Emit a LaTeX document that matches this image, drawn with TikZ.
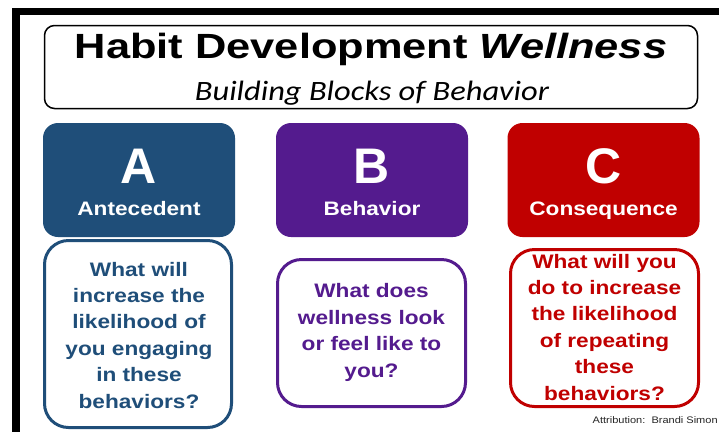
\documentclass[tikz,border=0pt]{standalone}
\usepackage{fontspec}
\setmainfont{Liberation Sans}
\newfontfamily\titlefont[FakeStretch=1.24]{Liberation Sans}
\newfontfamily\labfont[FakeStretch=1.16]{Liberation Sans}
\newfontfamily\subfont[FakeStretch=1.16]{Carlito}
\definecolor{cA}{HTML}{1F4E79}
\definecolor{cB}{HTML}{541B8E}
\definecolor{cC}{HTML}{C00000}
\tikzset{
  topbox/.style={rounded corners=15pt, minimum width=192pt, minimum height=114pt, inner sep=0pt},
  qbox/.style={draw=#1, line width=3pt, rounded corners=24pt, inner sep=0pt},
  bigletter/.style={anchor=base, text=white, inner sep=0pt, font=\fontsize{50}{55}\selectfont\bfseries},
  lab/.style={anchor=base, text=white, inner sep=0pt, font=\labfont\fontsize{19.5}{22}\selectfont\bfseries},
  qtext/.style={anchor=base, text=#1, inner sep=0pt, align=center, font=\labfont\fontsize{19.5}{26.4}\selectfont\bfseries}
}
\begin{document}
\begin{tikzpicture}[x=1pt,y=-1pt]
\useasboundingbox (0,0) rectangle (719,432);
\fill[white] (0,0) rectangle (719,432);
\fill[black] (12,8) rectangle (20,432);
\fill[black] (12,8) rectangle (719,15);
% title box
\node[draw=black, line width=1.5pt, rounded corners=10pt, minimum width=653pt, minimum height=83pt, inner sep=0pt] (tbox) at (371,67) {};
\node[anchor=base, inner sep=0pt] (title) at (371,58) {\titlefont\fontsize{35}{40}\selectfont\bfseries Habit Development \itshape Wellness};
\node[anchor=base, inner sep=0pt] (sub) at (372,100) {\subfont\fontsize{28}{32}\selectfont\itshape Building Blocks of Behavior};
% top boxes
\node[topbox, fill=cA] (boxA) at (139,180) {};
\node[topbox, fill=cB] (boxB) at (372,180) {};
\node[topbox, fill=cC] (boxC) at (603.5,180) {};
\node[bigletter] (letA) at (139,183) {A};
\node[bigletter] (letB) at (372,183) {B};
\node[bigletter] (letC) at (603.5,183) {C};
\node[lab] (labA) at (139,215) {Antecedent};
\node[lab] (labB) at (372,215) {Behavior};
\node[lab] (labC) at (603.5,215) {Consequence};
% question boxes
\node[qbox=cA, minimum width=187pt, minimum height=187pt] (qA) at (138,334) {};
\node[qbox=cB, minimum width=188pt, minimum height=147pt] (qB) at (371.5,333) {};
\node[qbox=cC, minimum width=188pt, minimum height=157pt] (qC) at (604.5,328) {};
\node[qtext=cA] (tA) at (139,408) {What will\\increase the\\likelihood of\\you engaging\\in these\\behaviors?};
\node[qtext=cB] (tB) at (371.5,377) {What does\\wellness look\\or feel like to\\you?};
\node[qtext=cC] (tC) at (604.5,400) {What will you\\do to increase\\the likelihood\\of repeating\\these\\behaviors?};
% attribution
\node[anchor=base west, inner sep=0pt, text=black!85] (attr) at (592.5,423) {\labfont\fontsize{9.5}{11}\selectfont Attribution:\ \ Brandi Simon};
\end{tikzpicture}
\end{document}
